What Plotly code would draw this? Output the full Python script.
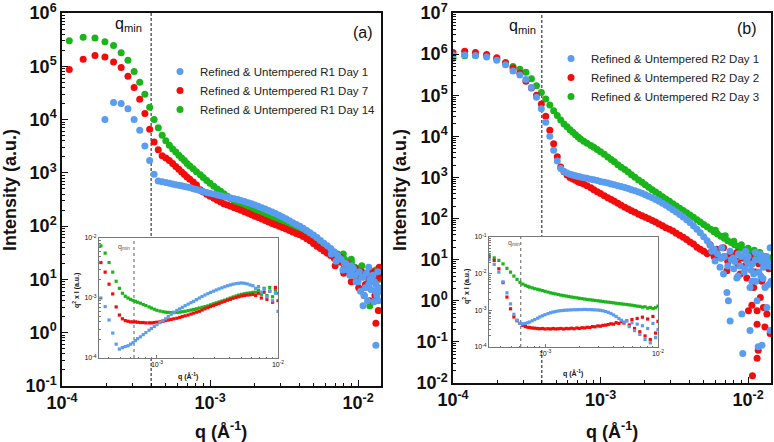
import plotly.graph_objects as go

# ---------------- data ----------------
# shared high-q grid (A^-1)
Q_HIGH = [7.3e-4, 7.7e-4, 8.1e-4, 8.6e-4, 9.0e-4, 9.5e-4, 1.0e-3, 1.06e-3, 1.12e-3, 1.18e-3,
          1.24e-3, 1.31e-3, 1.38e-3, 1.46e-3, 1.54e-3, 1.62e-3, 1.71e-3, 1.81e-3, 1.91e-3, 2.01e-3,
          2.12e-3, 2.24e-3, 2.36e-3, 2.49e-3, 2.63e-3, 2.77e-3, 2.93e-3, 3.09e-3, 3.26e-3, 3.44e-3,
          3.63e-3, 3.83e-3, 4.04e-3, 4.26e-3, 4.5e-3, 4.74e-3, 5.0e-3, 5.28e-3, 5.57e-3, 5.88e-3,
          6.2e-3, 6.54e-3, 6.9e-3, 7.28e-3, 7.68e-3, 8.1e-3, 8.55e-3, 9.02e-3, 9.52e-3, 1.0e-2,
          1.06e-2, 1.12e-2, 1.18e-2, 1.24e-2, 1.31e-2, 1.38e-2]

# ---- panel (a) main ----
Q_A_LOW = [1.12e-4, 1.39e-4, 1.67e-4, 1.95e-4, 2.23e-4, 2.51e-4, 2.79e-4, 3.07e-4, 3.35e-4, 3.63e-4,
           3.91e-4, 4.19e-4, 4.47e-4, 4.75e-4, 5.03e-4, 5.31e-4, 5.59e-4, 5.87e-4, 6.15e-4, 6.43e-4,
           6.71e-4, 6.99e-4]

I_A_GREEN = [3.0e5, 3.5e5, 3.4e5, 2.9e5, 2.45e5, 1.8e5, 1.3e5, 8.0e4, 5.0e4, 3.0e4,
             1.7e4, 1.0e4, 7.0e3, 5.1e3, 4.0e3, 3.3e3, 2.8e3, 2.45e3, 2.15e3, 1.9e3,
             1.7e3, 1.5e3,
             1350, 1200, 1050, 920, 820, 720, 640, 560, 500, 450,
             405, 365, 330, 295, 270, 250, 232, 215, 200, 188,
             176, 165, 155, 146, 137, 128, 120, 112, 104, 97,
             91, 85, 80, 74, 68, 62, 56, 50, 45, 41,
             38, 35, 32, 30, 26, 24, 20, 21, 17, 16,
             14, 13, 12, 13, 11, 10]
I_A_RED = [8.7e4, 1.35e5, 1.6e5, 1.5e5, 1.2e5, 9.5e4, 6.5e4, 4.0e4, 2.4e4, 1.3e4,
           6.6e3, 3.8e3, 2.7e3, 2.1e3, 1.9e3, 1.7e3, 1.5e3, 1.32e3, 1.17e3, 1.04e3,
           930, 840,
           760, 670, 590, 480, 435, 398, 362, 332, 305, 283,
           264, 248, 235, 222, 210, 198, 186, 175, 164, 154,
           145, 136, 127, 119, 112, 106, 100, 94, 88, 83,
           78, 73, 69, 64, 58, 53, 47, 42, 38, 34,
           31, 28, 25, 23, 21, 17, 15, 16, 12, 11,
           13, 8, 10, 9, 6, 11]
I_A_BLUE = [None, None, None, 1.0e4, 2.1e4, 2.0e4, 1.6e4, 1.0e4, 6.3e3, 3.2e3,
            1.7e3, 940, 700, 680, 660, 640, 620, 600, 585, 570,
            555, 540,
            530, 505, 485, 462, 445, 430, 415, 400, 385, 372,
            360, 348, 338, 327, 315, 302, 290, 276, 262, 248,
            235, 222, 210, 197, 185, 172, 160, 148, 137, 126,
            116, 107, 100, 91, 83, 75, 68, 61, 54, 48,
            43, 38, 33, 28, 24, 20, 15, 13, 12, 9,
            11, 7, 8, 10, 6, 7]

# scattered high-q points, panel (a)
TAIL_A_BLUE_Q = [6.6e-3, 7.1e-3, 7.5e-3, 7.9e-3, 8.3e-3, 8.8e-3, 9.3e-3, 9.7e-3, 1.02e-2, 1.04e-2,
                 1.08e-2, 1.1e-2, 1.14e-2, 1.16e-2, 1.2e-2, 1.22e-2, 1.26e-2, 1.28e-2, 1.32e-2, 1.34e-2,
                 1.36e-2, 1.4e-2, 1.32e-2, 1.08e-2, 1.18e-2, 1.29e-2, 1.38e-2, 9.0e-3]
TAIL_A_BLUE_I = [30, 22, 25, 15, 20, 12, 16, 9, 14, 6,
                 11, 5, 13, 4, 10, 6.5, 12, 3.8, 8, 5,
                 14, 6, 0.58, 3.2, 17, 9, 4, 18]
TAIL_A_RED_Q = [7.0e-3, 7.6e-3, 8.0e-3, 8.5e-3, 9.0e-3, 9.6e-3, 1.01e-2, 1.05e-2, 1.1e-2, 1.15e-2,
                1.2e-2, 1.25e-2, 1.3e-2, 1.35e-2, 1.39e-2, 1.32e-2, 1.37e-2, 1.42e-2]
TAIL_A_RED_I = [18, 26, 13, 20, 9, 16, 7, 14, 5, 12,
                4, 14, 5, 11, 17, 1.5, 2.6, 16]
TAIL_A_GREEN_Q = [7.95e-3, 9.0e-3, 1.06e-2, 1.2e-2, 1.32e-2, 1.41e-2]
TAIL_A_GREEN_I = [30, 24, 18, 3.2, 15, 11]

# ---- panel (b) main ----
Q_B_LOW = [1.0e-4, 1.2e-4, 1.42e-4, 1.69e-4, 1.98e-4, 2.27e-4, 2.55e-4, 2.84e-4, 3.12e-4, 3.40e-4,
           3.68e-4, 3.97e-4, 4.25e-4, 4.53e-4, 4.81e-4, 5.09e-4, 5.37e-4, 5.65e-4, 5.93e-4, 6.21e-4,
           6.49e-4, 6.77e-4, 7.05e-4]

I_B_GREEN = [7.9e5, 9.1e5, 9.3e5, 9.2e5, 7.7e5, 6.2e5, 5.0e5, 4.3e5, 3.6e5, 2.5e5,
             1.7e5, 1.17e5, 8.1e4, 5.8e4, 4.2e4, 3.2e4, 2.5e4, 2.0e4, 1.7e4, 1.45e4,
             1.25e4, 1.1e4, 9.6e3,
             8.6e3, 7.6e3, 6.8e3, 6.0e3, 5.4e3, 4.8e3, 4.2e3, 3.65e3, 3.15e3, 2.75e3,
             2.4e3, 2.05e3, 1.78e3, 1.55e3, 1.35e3, 1.17e3, 1.01e3, 870, 760, 665,
             580, 505, 445, 390, 340, 298, 262, 230, 202, 178,
             156, 138, 122, 107, 94, 82, 72, 63, 55, 48,
             42, 37, 33, 29, 26, 23, 21, 19, 17, 15.5,
             14, 13.5, 12, 11, 9.5, 8]
I_B_RED = [1.1e6, 1.17e6, 1.1e6, 9.8e5, 8.1e5, 6.2e5, 4.6e5, 3.4e5, 2.2e5, 1.5e5,
           1.0e5, 6.1e4, 3.1e4, 1.4e4, 6.6e3, 3.2e3, 1.8e3, 1.38e3, 1.15e3, 1.0e3,
           920, 850, 790,
           740, 690, 630, 560, 505, 450, 405, 360, 322, 290,
           262, 235, 210, 188, 170, 155, 142, 128, 117, 107,
           99, 90, 82, 74, 67, 60, 55, 50, 44, 39,
           35, 31, 27, 24, 20, 18, 16, 14, 15, 12,
           13, 11, 12, 9, 13, 10, 8, 11, 7, 10,
           9, 5, 8, 3, 9, 6]
I_B_BLUE = [9.4e5, 9.5e5, 9.3e5, 8.5e5, 7.1e5, 5.5e5, 3.9e5, 3.1e5, 2.4e5, 1.55e5,
            8.9e4, 4.7e4, 2.2e4, 1.0e4, 4.6e3, 2.5e3, 1.65e3, 1.4e3, 1.28e3, 1.2e3,
            1.15e3, 1.1e3, 1.06e3,
            1020, 985, 950, 910, 875, 840, 800, 765, 730, 695,
            662, 630, 600, 568, 535, 505, 472, 440, 410, 380,
            350, 320, 290, 262, 235, 210, 186, 164, 144, 126,
            109, 94, 80, 67, 55, 45, 36, 29, 22, 18,
            14, 11, 12, 7, 10, 9, 4, 12, 6, 8,
            3, 10, 5, 9, 2.2, 7]

TAIL_B_BLUE_Q = [5.67e-3, 5.97e-3, 6.45e-3, 6.81e-3, 7.18e-3, 7.35e-3, 7.95e-3, 8.38e-3, 9.06e-3, 9.2e-3,
                 9.8e-3, 1.03e-2, 1.03e-2, 1.09e-2, 1.15e-2, 1.17e-2, 1.24e-2, 1.21e-2, 1.27e-2, 1.30e-2,
                 1.34e-2, 1.41e-2, 1.45e-2, 1.41e-2, 6.63e-3, 7.55e-3, 7.55e-3, 8.0e-3, 8.6e-3, 9.4e-3,
                 1.0e-2, 1.07e-2, 1.13e-2, 1.19e-2, 1.26e-2, 1.33e-2, 1.38e-2, 1.12e-2, 1.36e-2, 8.8e-3,
                 9.6e-3, 1.05e-2, 1.22e-2, 1.29e-2, 1.43e-2]
TAIL_B_BLUE_I = [16, 9.3, 6.5, 4.5, 1.6, 1.0, 11, 3.6, 0.48, 0.052,
                 9.3, 2.1, 0.19, 4.5, 1.0, 0.076, 0.083, 13.5, 6.5, 2.1,
                 0.69, 0.19, 6.5, 19.5, 19.5, 16, 0.32, 6, 14, 5,
                 12, 8, 3, 10, 3.5, 12, 2.5, 15, 9, 7,
                 16, 5.5, 4, 11, 3]
TAIL_B_RED_Q = [5.52e-3, 6.13e-3, 6.81e-3, 7.55e-3, 8.38e-3, 9.29e-3, 1.03e-2, 1.15e-2, 1.27e-2, 1.41e-2,
                7.18e-3, 8.83e-3, 1.09e-2, 1.21e-2, 1.34e-2, 1.15e-2, 1.06e-2, 1.17e-2, 1.15e-2, 1.07e-2,
                1.41e-2, 1.30e-2, 9.8e-3, 1.27e-2, 1.15e-2, 1.005e-2]
TAIL_B_RED_I = [23, 18, 19.5, 13.5, 15, 11, 12, 9.3, 11, 7.8,
                5.4, 4.5, 2.1, 1.2, 0.48, 0.27, 0.78, 0.063, 0.04, 0.015,
                0.16, 0.23, 3.6, 0.69, 0.57, 0.57]
TAIL_B_GREEN_Q = [6.0e-3, 7.0e-3, 8.0e-3, 9.0e-3, 1.0e-2, 1.1e-2, 1.2e-2, 1.3e-2, 1.4e-2, 1.35e-2]
TAIL_B_GREEN_I = [52, 38, 28, 23, 19, 17, 15, 12, 11, 7]

# ---- inset (a): q^2 x I ----
Q_IN_A_LOW = [3.44e-4, 3.73e-4, 4.02e-4, 4.31e-4, 4.60e-4, 4.89e-4, 5.18e-4, 5.47e-4, 5.76e-4, 6.05e-4,
              6.34e-4, 6.63e-4, 6.92e-4]
V_A_GREEN = [7.4e-3, 5.6e-3, 3.9e-3, 2.7e-3, 1.9e-3, 1.45e-3, 1.2e-3, 1.07e-3, 1.0e-3, 9.5e-4,
             9.1e-4, 8.8e-4, 8.5e-4,
             8.2e-4, 7.8e-4, 7.5e-4, 7.1e-4, 6.8e-4, 6.5e-4, 6.25e-4, 6.05e-4, 5.9e-4, 5.8e-4,
             5.75e-4, 5.7e-4, 5.7e-4, 5.75e-4, 5.8e-4, 5.9e-4, 6.0e-4, 6.15e-4, 6.3e-4, 6.45e-4,
             6.6e-4, 6.8e-4, 7.0e-4, 7.2e-4, 7.4e-4, 7.7e-4, 8.0e-4, 8.3e-4, 8.6e-4, 8.9e-4,
             9.2e-4, 9.6e-4, 1.0e-3, 1.04e-3, 1.08e-3, 1.12e-3, 1.15e-3, 1.18e-3, 1.2e-3, 1.22e-3,
             1.24e-3, 1.25e-3, 1.35e-3, 1.15e-3, 1.45e-3, 1.1e-3, 1.5e-3, 1.05e-3, 1.35e-3, 1.2e-3]
V_A_RED = [3.9e-3, 2.7e-3, 1.7e-3, 1.17e-3, 7.1e-4, 5.2e-4, 4.5e-4, 4.2e-4, 4.1e-4, 4.0e-4,
           4.0e-4, 4.0e-4, 3.95e-4,
           3.9e-4, 3.9e-4, 3.85e-4, 3.85e-4, 3.85e-4, 3.9e-4, 3.95e-4, 4.0e-4, 4.1e-4, 4.2e-4,
           4.3e-4, 4.4e-4, 4.5e-4, 4.6e-4, 4.75e-4, 4.9e-4, 5.05e-4, 5.2e-4, 5.4e-4, 5.6e-4,
           5.8e-4, 6.0e-4, 6.3e-4, 6.6e-4, 6.9e-4, 7.2e-4, 7.5e-4, 7.8e-4, 8.1e-4, 8.5e-4,
           8.8e-4, 9.2e-4, 9.5e-4, 9.9e-4, 1.02e-3, 1.05e-3, 1.08e-3, 1.1e-3, 1.12e-3, 1.13e-3,
           1.15e-3, 1.1e-3, 1.2e-3, 1.0e-3, 1.25e-3, 9.5e-4, 1.3e-3, 8.5e-4, 1.5e-3, 9.0e-4]
V_A_BLUE = [1.0e-3, 7.2e-4, 4.3e-4, 2.6e-4, 1.7e-4, 1.41e-4, 1.49e-4, 1.55e-4, 1.6e-4, 1.7e-4,
            1.8e-4, 1.95e-4, 2.1e-4,
            2.25e-4, 2.45e-4, 2.65e-4, 2.9e-4, 3.1e-4, 3.35e-4, 3.6e-4, 3.9e-4, 4.2e-4, 4.5e-4,
            4.9e-4, 5.35e-4, 5.8e-4, 6.2e-4, 6.6e-4, 7.0e-4, 7.45e-4, 7.9e-4, 8.35e-4, 8.8e-4,
            9.4e-4, 1.0e-3, 1.06e-3, 1.12e-3, 1.18e-3, 1.24e-3, 1.3e-3, 1.36e-3, 1.42e-3, 1.48e-3,
            1.54e-3, 1.6e-3, 1.65e-3, 1.7e-3, 1.74e-3, 1.76e-3, 1.78e-3, 1.76e-3, 1.72e-3, 1.65e-3,
            1.6e-3, 1.45e-3, 1.55e-3, 1.25e-3, 1.4e-3, 1.05e-3, 1.3e-3, 9.0e-4, 1.2e-3, 6.0e-4]

# ---- inset (b): q^2 x I ----
Q_IN_B_LOW = [3.2e-4, 3.55e-4, 3.9e-4, 4.25e-4, 4.6e-4, 4.95e-4, 5.3e-4, 5.65e-4, 6.0e-4, 6.35e-4,
              6.7e-4, 7.05e-4]
V_B_GREEN = [3.3e-2, 2.7e-2, 2.3e-2, 1.85e-2, 1.4e-2, 1.1e-2, 8.6e-3, 7.0e-3, 5.8e-3, 5.2e-3,
             4.8e-3, 4.5e-3,
             4.3e-3, 4.1e-3, 3.9e-3, 3.75e-3, 3.6e-3, 3.45e-3, 3.3e-3, 3.15e-3, 3.0e-3, 2.9e-3,
             2.8e-3, 2.7e-3, 2.6e-3, 2.52e-3, 2.45e-3, 2.38e-3, 2.31e-3, 2.25e-3, 2.19e-3, 2.13e-3,
             2.08e-3, 2.03e-3, 1.98e-3, 1.94e-3, 1.9e-3, 1.86e-3, 1.82e-3, 1.78e-3, 1.74e-3, 1.7e-3,
             1.67e-3, 1.64e-3, 1.6e-3, 1.56e-3, 1.53e-3, 1.5e-3, 1.47e-3, 1.44e-3, 1.41e-3, 1.38e-3,
             1.34e-3, 1.3e-3, 1.28e-3, 1.22e-3, 1.25e-3, 1.15e-3, 1.2e-3, 1.12e-3, 1.18e-3, 1.3e-3]
V_B_RED = [2.85e-2, 2.3e-2, 1.36e-2, 5.7e-3, 2.3e-3, 1.1e-3, 6.6e-4, 5.2e-4, 4.4e-4, 3.9e-4,
           3.6e-4, 3.45e-4,
           3.4e-4, 3.3e-4, 3.25e-4, 3.2e-4, 3.15e-4, 3.2e-4, 3.1e-4, 3.15e-4, 3.1e-4, 3.2e-4,
           3.1e-4, 3.15e-4, 3.2e-4, 3.1e-4, 3.2e-4, 3.15e-4, 3.25e-4, 3.15e-4, 3.3e-4, 3.2e-4,
           3.35e-4, 3.3e-4, 3.45e-4, 3.4e-4, 3.6e-4, 3.55e-4, 3.75e-4, 3.7e-4, 3.9e-4, 3.95e-4,
           4.1e-4, 4.3e-4, 4.2e-4, 4.6e-4, 4.4e-4, 4.9e-4, 4.5e-4, 5.2e-4, 4.0e-4, 5.6e-4,
           3.2e-4, 6.0e-4, 2.6e-4, 6.5e-4, 2.0e-4, 5.8e-4, 1.6e-4, 6.8e-4, 2.4e-4, 5.0e-4]
V_B_BLUE = [2.4e-2, 1.8e-2, 1.1e-2, 6.0e-3, 3.0e-3, 1.5e-3, 7.8e-4, 5.4e-4, 4.4e-4, 4.3e-4,
            4.4e-4, 4.6e-4,
            4.8e-4, 5.2e-4, 5.6e-4, 6.1e-4, 6.6e-4, 7.1e-4, 7.6e-4, 8.1e-4, 8.6e-4, 9.0e-4,
            9.3e-4, 9.6e-4, 9.8e-4, 1.0e-3, 1.01e-3, 1.02e-3, 1.03e-3, 1.04e-3, 1.04e-3, 1.05e-3,
            1.05e-3, 1.06e-3, 1.05e-3, 1.05e-3, 1.04e-3, 1.03e-3, 1.02e-3, 1.0e-3, 9.7e-4, 9.3e-4,
            8.8e-4, 8.2e-4, 7.5e-4, 6.8e-4, 6.0e-4, 5.4e-4, 4.8e-4, 5.2e-4, 3.6e-4, 4.6e-4,
            2.8e-4, 4.2e-4, 2.2e-4, 3.8e-4, 1.6e-4, 3.2e-4, 1.3e-4, 4.4e-4, 1.8e-4, 3.0e-4]

NAMES_A = ["Refined & Untempered R1 Day 14", "Refined & Untempered R1 Day 7", "Refined & Untempered R1 Day 1"]
NAMES_B = ["Refined & Untempered R2 Day 3", "Refined & Untempered R2 Day 2", "Refined & Untempered R2 Day 1"]

QMIN_MAIN = 4.0e-4
QMIN_INSET_A = 6.46e-4
QMIN_INSET_B = 6.1e-4

X_RANGE_MAIN = [-4, -1.845]
Y_RANGE_A = [-1, 6]
Y_RANGE_B = [-2, 7]
X_RANGE_IN_A = [-3.479, -2]
Y_RANGE_IN_A = [-4, -2]
X_RANGE_IN_B = [-3.496, -2]
Y_RANGE_IN_B = [-4, -1]

GREEN = "#1ab51a"
RED = "#f20c0c"
BLUE = "#5a9df0"
COLORS = [GREEN, RED, BLUE]

FONT = "Arial, Liberation Sans, sans-serif"

# ---------------- figure ----------------
fig = go.Figure()

def ref_line(q, yr, xa, ya, dash, color, width):
    fig.add_trace(go.Scatter(x=[q, q], y=[10 ** yr[0], 10 ** yr[1]], mode="lines",
                             line=dict(color=color, width=width, dash=dash),
                             xaxis=xa, yaxis=ya, showlegend=False, hoverinfo="skip"))

def pts(x, y, color, name, xa, ya, legend, size, symbol, showlegend):
    fig.add_trace(go.Scatter(x=x, y=y, mode="markers", name=name,
                             marker=dict(color=color, size=size, symbol=symbol, line=dict(width=0)),
                             xaxis=xa, yaxis=ya, legend=legend, showlegend=showlegend))

# panel (a)
ref_line(QMIN_MAIN, Y_RANGE_A, "x", "y", "3px,2px", "#111", 1)
QA = Q_A_LOW + Q_HIGH
pts(QA + TAIL_A_GREEN_Q, I_A_GREEN + TAIL_A_GREEN_I, GREEN, NAMES_A[0], "x", "y", "legend", 7, "circle", True)
pts(QA + TAIL_A_RED_Q, I_A_RED + TAIL_A_RED_I, RED, NAMES_A[1], "x", "y", "legend", 7, "circle", True)
pts(QA + TAIL_A_BLUE_Q, I_A_BLUE + TAIL_A_BLUE_I, BLUE, NAMES_A[2], "x", "y", "legend", 7, "circle", True)

# panel (b)
ref_line(QMIN_MAIN, Y_RANGE_B, "x2", "y2", "3px,2px", "#111", 1)
QB = Q_B_LOW + Q_HIGH
pts(QB + TAIL_B_GREEN_Q, I_B_GREEN + TAIL_B_GREEN_I, GREEN, NAMES_B[0], "x2", "y2", "legend2", 7, "circle", True)
pts(QB + TAIL_B_RED_Q, I_B_RED + TAIL_B_RED_I, RED, NAMES_B[1], "x2", "y2", "legend2", 7, "circle", True)
pts(QB + TAIL_B_BLUE_Q, I_B_BLUE + TAIL_B_BLUE_I, BLUE, NAMES_B[2], "x2", "y2", "legend2", 7, "circle", True)

# inset (a)
ref_line(QMIN_INSET_A, Y_RANGE_IN_A, "x3", "y3", "dot", "#333", 0.8)
QIA = Q_IN_A_LOW + Q_HIGH[:50]
for v, c in zip([V_A_GREEN, V_A_RED, V_A_BLUE], COLORS):
    pts(QIA, v, c, "", "x3", "y3", "legend", 3.2, "square", False)

# inset (b)
ref_line(QMIN_INSET_B, Y_RANGE_IN_B, "x4", "y4", "dot", "#333", 0.8)
QIB = Q_IN_B_LOW + Q_HIGH[:50]
for v, c in zip([V_B_GREEN, V_B_RED, V_B_BLUE], COLORS):
    pts(QIB, v, c, "", "x4", "y4", "legend2", 3.2, "square", False)


def log_axis(lo, hi, color, lw, ticklen, minorlen, font_size, bold):
    vals = [10.0 ** e for e in range(lo, hi + 1)]
    minor = [m * 10.0 ** e for e in range(lo - 1, hi + 1) for m in range(2, 10)]
    if bold:
        text = [f"<b>10<sup>{e}</sup></b>" for e in range(lo, hi + 1)]
    else:
        text = [f"10<sup>{e}</sup>" for e in range(lo, hi + 1)]
    return dict(type="log", showline=True, linecolor=color, linewidth=lw, mirror=True,
                ticks="inside", ticklen=ticklen, tickwidth=1, tickcolor=color,
                showgrid=False, zeroline=False, ticklabeloverflow="allow",
                tickmode="array", tickvals=vals, ticktext=text,
                tickfont=dict(family=FONT, size=font_size, color="#111"),
                minor=dict(ticks="inside", ticklen=minorlen, tickwidth=0.8, tickcolor=color,
                           tickmode="array", tickvals=minor, showgrid=False))

def px_x(p):
    return p / 774.0

def px_y(p):
    return 1 - p / 442.0

TOP = 13
xa = log_axis(-4, -2, "#111", 1.5, 6, 3, 18, True)
xa.update(domain=[px_x(62), px_x(381)], range=X_RANGE_MAIN, anchor="y")
ya = log_axis(-1, 6, "#111", 1.5, 6, 3, 18, True)
ya.update(domain=[px_y(386), px_y(TOP)], range=Y_RANGE_A, anchor="x")
xb = log_axis(-4, -2, "#111", 1.5, 6, 3, 18, True)
xb.update(domain=[px_x(453), px_x(771)], range=X_RANGE_MAIN, anchor="y2")
yb = log_axis(-2, 7, "#111", 1.5, 6, 3, 18, True)
yb.update(domain=[px_y(383), px_y(TOP)], range=Y_RANGE_B, anchor="x2")

xia = log_axis(-3, -2, "#777", 1, 3, 1.5, 7, False)
xia.update(domain=[px_x(99), px_x(278)], range=X_RANGE_IN_A, anchor="y3")
yia = log_axis(-4, -2, "#777", 1, 3, 1.5, 7, False)
yia.update(domain=[px_y(358), px_y(238)], range=Y_RANGE_IN_A, anchor="x3")
xib = log_axis(-3, -2, "#777", 1, 3, 1.5, 7, False)
xib.update(domain=[px_x(489), px_x(658)], range=X_RANGE_IN_B, anchor="y4")
yib = log_axis(-4, -1, "#777", 1, 3, 1.5, 7, False)
yib.update(domain=[px_y(347), px_y(237)], range=Y_RANGE_IN_B, anchor="x4")

ann = []
def text(x, y, s, size, bold=False, angle=0, color="#111", xanchor="center"):
    ann.append(dict(x=px_x(x), y=px_y(y), xref="paper", yref="paper", text=s, showarrow=False,
                    textangle=angle, xanchor=xanchor, yanchor="middle",
                    font=dict(family=FONT, size=size, color=color, weight="bold" if bold else "normal")))

text(10, 190, "<b>Intensity (a.u.)</b>", 18, True, -90)
text(400, 190, "<b>Intensity (a.u.)</b>", 18, True, -90)
text(221, 430, "<b>q (Å<sup>-1</sup>)</b>", 18, True)
text(612, 430, "<b>q (Å<sup>-1</sup>)</b>", 18, True)
text(128, 24, "q<sub>min</sub>", 16)
text(522, 26, "q<sub>min</sub>", 16)
text(363, 33, "(a)", 16)
text(747, 29, "(b)", 16)
text(76, 291, "<b>q<sup>2</sup> x I (a.u.)</b>", 7, True, -90)
text(466, 287, "<b>q<sup>2</sup> x I (a.u.)</b>", 7, True, -90)
text(188, 376, "<b>q (Å<sup>-1</sup>)</b>", 7, True)
text(573, 373, "<b>q (Å<sup>-1</sup>)</b>", 7, True)
text(124, 247, "q<sub>min</sub>", 7, color="#555")
text(514, 243, "q<sub>min</sub>", 7, color="#555")

leg_common = dict(xanchor="left", yanchor="top", bgcolor="rgba(0,0,0,0)", borderwidth=0,
                  traceorder="reversed", font=dict(family=FONT, size=11.5, color="#222"))

fig.update_layout(
    width=774, height=442, margin=dict(l=0, r=0, t=0, b=0),
    paper_bgcolor="white", plot_bgcolor="white", template="none",
    xaxis=xa, yaxis=ya, xaxis2=xb, yaxis2=yb,
    xaxis3=xia, yaxis3=yia, xaxis4=xib, yaxis4=yib,
    legend=dict(x=px_x(160), y=px_y(57), **leg_common),
    legend2=dict(x=px_x(551), y=px_y(44), **leg_common),
    annotations=ann,
)

fig.write_html("out.html")
